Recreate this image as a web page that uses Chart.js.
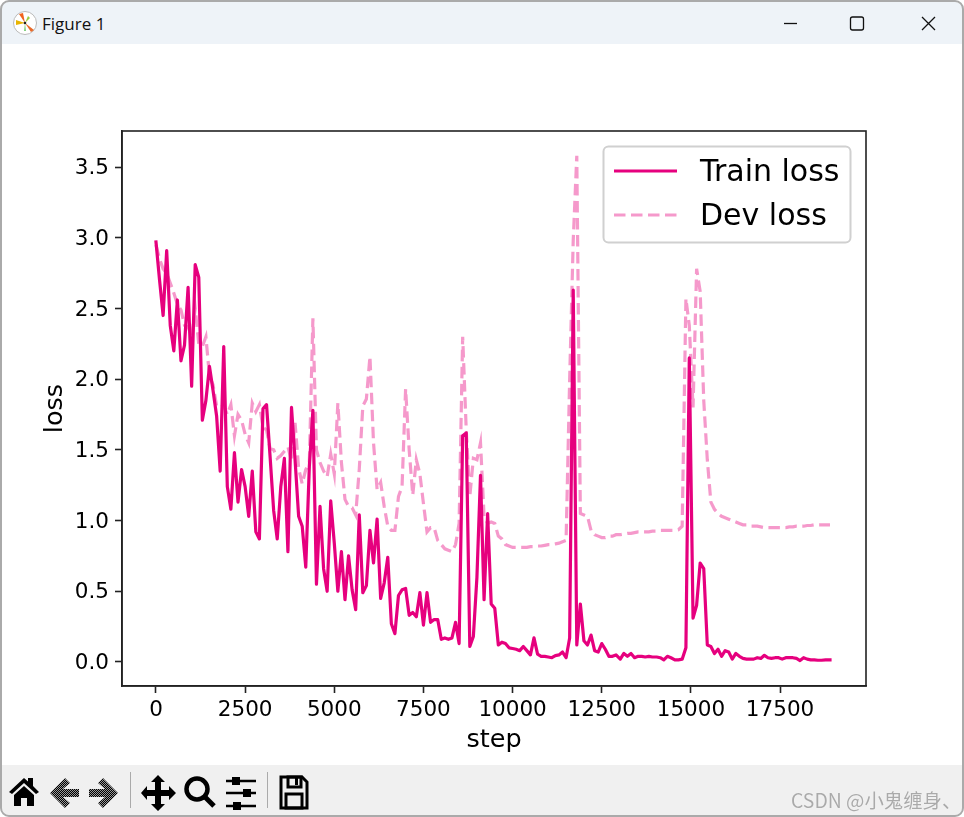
<!DOCTYPE html>
<html>
<head>
<meta charset="utf-8">
<script src="https://cdn.jsdelivr.net/npm/chart.js@4"></script>
<style>
html,body{margin:0;padding:0;background:#fff;width:964px;height:817px;overflow:hidden;font-family:"DejaVu Sans",sans-serif}
#c{position:absolute;left:0;top:0}
.abs{position:absolute}
#frame{left:0;top:0;width:960px;height:813px;border:2px solid #aaa;border-radius:9px;pointer-events:none}
#titlebar{left:2px;top:2px;width:960px;height:42px;background:#eef3f8;border-radius:7px 7px 0 0}
#toolbar{left:2px;top:765px;width:960px;height:50px;background:#f0f0f0;border-radius:0 0 7px 7px}
#ttl{left:42px;top:12px;font:17px "Open Sans",sans-serif;color:#111}
#wm{left:791px;top:785px;font:19.4px "Noto Sans CJK SC",sans-serif;color:#aaa;text-shadow:0 0 1px #fff;white-space:nowrap}
</style>
</head>
<body>
<canvas id="c" width="964" height="817" style="width:964px;height:817px"></canvas>
<div class="abs" id="titlebar"></div>
<div class="abs" id="toolbar"></div>
<svg class="abs" style="left:12px;top:10px" width="26" height="26" viewBox="0 0 26 26">
  <circle cx="13" cy="13" r="11.5" fill="#fff" stroke="#bbb" stroke-width="1"/>
  <path d="M13 13 L7 4 L11 3 Z" fill="#f0641e"/><path d="M13 13 L4 10 L4 15 Z" fill="#e8b400"/>
  <path d="M13 13 L22 20 L19 22 Z" fill="#e86a2a"/><path d="M13 13 L16 6 L18 8 Z" fill="#9ccc3c"/>
  <path d="M13 13 L12 21 L14 21 Z" fill="#7ccf7c"/><circle cx="13" cy="13" r="1.3" fill="#222"/>
</svg>
<div class="abs" id="ttl">Figure 1</div>
<svg class="abs" style="left:770px;top:8px" width="180" height="32" viewBox="0 0 180 32" fill="none" stroke="#111" stroke-width="1.3">
  <path d="M14 15.5 H27"/>
  <rect x="80.5" y="9" width="13" height="13" rx="2"/>
  <path d="M152 9 L165 22 M165 9 L152 22"/>
</svg>
<svg class="abs" style="left:0;top:765px" width="320" height="50" viewBox="0 0 320 50">
  <defs><pattern id="chk" width="2" height="2" patternUnits="userSpaceOnUse"><rect width="1" height="1" fill="#000"/><rect x="1" y="1" width="1" height="1" fill="#000"/><rect x="1" width="1" height="1" fill="#999"/><rect y="1" width="1" height="1" fill="#999"/></pattern></defs>
  <path d="M9 27 L24 13 L28 16.500 V13 H33 V21 L39 27 L36 29 L24 18 L12 29 Z" fill="#000"/>
  <path d="M14 30 L24 21 L34 30 V41 H27 V33 H21 V41 H14 Z" fill="#000"/>
  <path d="M50 28 L65 13 L70 18 L63 24 H79 V32 H63 L70 38 L65 43 Z" fill="url(#chk)"/>
  <path d="M118 28 L103 13 L98 18 L105 24 H89 V32 H105 L98 38 L103 43 Z" fill="url(#chk)"/>
  <rect x="130" y="7" width="1" height="36" fill="#aaa"/>
  <path d="M158 10 L165 17 H161 V25 H169 V21 L176 28 L169 35 V31 H161 V39 H165 L158 46 L151 39 H155 V31 H147 V35 L141 28 L147 21 V25 H155 V17 H151 Z" fill="#000"/>
  <circle cx="197" cy="24" r="10.500" fill="none" stroke="#000" stroke-width="4.500"/>
  <path d="M205 32 L214 41" stroke="#000" stroke-width="5"/>
  <g stroke="#000" stroke-width="2.400"><path d="M226 16 H256 M226 28 H256 M226 41 H256"/></g>
  <g fill="#000"><rect x="232" y="12" width="8" height="8"/><rect x="243" y="24" width="8" height="8"/><rect x="233" y="37" width="8" height="8"/></g>
  <rect x="267" y="7" width="1" height="36" fill="#aaa"/>
  <path d="M281 12 H302 L307 17 V43 H281 Z" fill="none" stroke="#000" stroke-width="3"/>
  <rect x="288" y="12" width="13" height="10" fill="none" stroke="#000" stroke-width="3"/><rect x="295" y="13" width="3" height="7" fill="#000"/>
  <rect x="286" y="29" width="16" height="14" fill="none" stroke="#000" stroke-width="3"/>
</svg>
<div class="abs" id="wm">CSDN @小鬼缠身、</div>
<div class="abs" id="frame"></div>
<script>
const steps = [0,100,200,300,400,500,600,700,800,900,1000,1100,1200,1300,1400,1500,1600,1700,1800,1900,
2000,2100,2200,2300,2400,2500,2600,2700,2800,2900,3000,3100,3200,3300,3400,3500,3600,3700,3800,3900,
4000,4100,4200,4300,4400,4500,4600,4700,4800,4900,5000,5100,5200,5300,5400,5500,5600,5700,5800,5900,
6000,6100,6200,6300,6400,6500,6600,6700,6800,6900,7000,7100,7200,7300,7400,7500,7600,7700,7800,7900,
8000,8100,8200,8300,8400,8500,8600,8700,8800,8900,9000,9100,9200,9300,9400,9500,9600,9700,9800,9900,
10000,10100,10200,10300,10400,10500,10600,10700,10800,10900,11000,11100,11200,11300,11400,11500,11600,11700,11800,11900,
12000,12100,12200,12300,12400,12500,12600,12700,12800,12900,13020,13120,13220,13320,13420,13520,13620,13720,13820,13920,
14040,14140,14240,14340,14440,14550,14650,14755,14860,14955,15060,15160,15260,15360,15460,15560,15660,15760,15860,15960,
16060,16160,16260,16360,16460,16560,16660,16760,16860,16960,17060,17160,17260,17360,17460,17560,17660,17760,17860,17960,
18060,18160,18260,18360,18460,18560,18660,18780,18900];
const trainLoss = [2.97,2.70,2.45,2.91,2.38,2.20,2.56,2.13,2.24,2.65,1.95,2.81,2.72,1.71,1.85,2.09,1.92,1.74,1.35,2.23,
1.24,1.08,1.48,1.13,1.36,1.24,1.03,1.35,0.92,0.87,1.79,1.82,1.45,1.07,0.87,1.24,1.44,0.78,1.80,1.43,
1.03,0.96,0.67,1.38,1.78,0.55,1.10,0.66,0.50,1.14,0.84,0.50,0.78,0.44,0.75,0.51,0.37,1.04,0.49,0.54,
0.93,0.70,1.01,0.45,0.56,0.74,0.27,0.20,0.47,0.51,0.52,0.33,0.35,0.32,0.49,0.26,0.49,0.28,0.30,0.30,
0.16,0.17,0.16,0.17,0.28,0.13,1.60,1.62,0.11,0.18,0.60,1.32,0.44,1.05,0.41,0.38,0.12,0.14,0.13,0.10,
0.095,0.09,0.08,0.11,0.08,0.05,0.17,0.055,0.04,0.04,0.035,0.03,0.045,0.05,0.07,0.03,0.17,2.63,0.12,0.41,
0.15,0.12,0.19,0.08,0.07,0.13,0.09,0.04,0.04,0.05,0.02,0.06,0.04,0.06,0.03,0.04,0.04,0.035,0.04,0.035,
0.035,0.03,0.015,0.04,0.03,0.015,0.015,0.02,0.10,2.15,0.31,0.40,0.70,0.66,0.12,0.11,0.06,0.09,0.04,0.08,
0.07,0.02,0.06,0.04,0.025,0.02,0.02,0.02,0.03,0.025,0.047,0.03,0.025,0.03,0.03,0.02,0.03,0.03,0.03,0.025,
0.01,0.03,0.02,0.015,0.015,0.012,0.012,0.015,0.015];
const devLoss = [2.95,2.85,2.78,2.75,2.68,2.61,2.53,2.49,2.38,2.37,2.30,2.50,2.25,2.23,2.30,2.02,1.96,1.81,1.80,1.81,
1.75,1.82,1.60,1.75,1.71,1.61,1.55,1.83,1.77,1.82,1.66,1.64,1.51,1.50,1.44,1.46,1.49,1.52,1.42,1.69,
1.37,1.26,1.36,1.41,2.43,1.50,1.41,1.35,1.31,1.47,1.33,1.83,1.41,1.15,1.10,1.09,1.04,1.36,1.81,1.86,
2.16,1.55,1.22,1.27,1.10,0.96,0.93,0.93,1.17,1.24,1.93,1.50,1.18,1.43,1.33,1.12,0.92,0.95,0.95,0.86,
0.83,0.80,0.79,0.78,0.83,0.98,2.30,1.64,1.17,1.44,1.43,1.55,1.03,0.98,0.99,0.98,0.89,0.87,0.83,0.82,
0.81,0.81,0.81,0.81,0.81,0.815,0.815,0.82,0.82,0.825,0.83,0.83,0.835,0.84,0.85,0.86,2.00,2.98,3.58,1.05,
1.04,1.03,0.93,0.90,0.89,0.88,0.88,0.89,0.89,0.90,0.90,0.905,0.91,0.91,0.915,0.92,0.92,0.92,0.92,0.925,
0.925,0.93,0.93,0.93,0.93,0.93,0.935,0.96,2.57,2.38,1.80,2.78,2.62,1.85,1.43,1.13,1.08,1.05,1.03,1.02,
1.01,1.00,0.99,0.98,0.97,0.97,0.96,0.96,0.96,0.955,0.95,0.95,0.95,0.95,0.95,0.95,0.95,0.955,0.955,0.96,
0.96,0.96,0.965,0.965,0.97,0.97,0.97,0.97,0.97];
const xTickValues = [0,2500,5000,7500,10000,12500,15000,17500];
const yTickValues = [0,0.5,1,1.5,2,2.5,3,3.5];
const xLabel = "step";
const yLabel = "loss";
const seriesNames = ["Train loss","Dev loss"];
const trainColor = "#e6007e";
const devColor = "rgba(230,0,126,0.4)";
const FONT = '"DejaVu Sans"';

const legendBox = {
  id:'legendBox',
  beforeDraw(chart){
    const s=chart.scales.y;
    s.getLabelItems().forEach(it=>{ if(!it._shifted){it.options.translation[1]+=1.5;it._shifted=true;} });
  },
  afterDatasetsDraw(chart){
    const ctx = chart.ctx, a = chart.chartArea;
    ctx.save();
    ctx.strokeStyle='#222';ctx.lineWidth=1.6;
    ctx.strokeRect(a.left,a.top,a.right-a.left,a.bottom-a.top);
    const X=603.5,Y=146.5,W=247,H=96,R=5;
    ctx.beginPath();ctx.roundRect(X,Y,W,H,R);
    ctx.fillStyle='rgba(255,255,255,0.8)';ctx.fill();
    ctx.strokeStyle='#d0d0d0';ctx.lineWidth=2;ctx.stroke();
    ctx.font='30px '+FONT;ctx.textBaseline='middle';ctx.textAlign='left';
    chart.data.datasets.forEach((ds,i)=>{
      const y=171+i*44;
      ctx.beginPath();ctx.moveTo(614,y);ctx.lineTo(677,y);
      ctx.strokeStyle=ds.borderColor;ctx.lineWidth=ds.borderWidth;
      ctx.setLineDash(ds.borderDash||[]);ctx.stroke();ctx.setLineDash([]);
      ctx.fillStyle='#000';ctx.fillText(ds.label,700,y+2);
    });
    ctx.restore();
  }
};

new Chart(document.getElementById('c'),{
  type:'line',
  data:{datasets:[
    {label:seriesNames[0],data:trainLoss.map((y,i)=>({x:steps[i],y})),borderColor:trainColor,borderWidth:3.2,pointRadius:0,tension:0,order:2,borderJoinStyle:'round',borderCapStyle:'square'},
    {label:seriesNames[1],data:devLoss.map((y,i)=>({x:steps[i],y})),borderColor:devColor,borderWidth:3.2,borderDash:[11.5,5.5],pointRadius:0,tension:0,order:1}
  ]},
  plugins:[legendBox],
  options:{
    responsive:false,devicePixelRatio:1,animation:false,
    layout:{padding:{left:0,top:131,right:98,bottom:0}},
    plugins:{legend:{display:false},tooltip:{enabled:false}},
    scales:{
      x:{type:'linear',min:-953,max:19910,
        afterBuildTicks(s){s.ticks=xTickValues.map(v=>({value:v}));},
        afterFit(s){s.height=131;},
        grid:{drawOnChartArea:false,drawTicks:true,tickLength:7,tickWidth:1.6,tickColor:'#222'},
        border:{color:'#222',width:1.6},
        ticks:{color:'#000',font:{family:FONT,size:21.5},maxRotation:0,autoSkip:false,padding:5,callback:v=>String(v)},
        title:{display:true,text:xLabel,color:'#000',font:{family:FONT,size:25.5},padding:{top:0,bottom:61}}
      },
      y:{type:'linear',min:-0.17,max:3.755,
        afterBuildTicks(s){s.ticks=yTickValues.map(v=>({value:v}));},
        afterFit(s){s.width=122;},
        grid:{drawOnChartArea:false,drawTicks:true,tickLength:7,tickWidth:1.6,tickColor:'#222'},
        border:{color:'#222',width:1.6},
        ticks:{color:'#000',font:{family:FONT,size:21.5},padding:6,callback:v=>v.toFixed(1)},
        title:{display:true,text:yLabel,color:'#000',font:{family:FONT,size:25.5},padding:{top:40,bottom:0}}
      }
    }
  }
});
</script>
</body>
</html>
